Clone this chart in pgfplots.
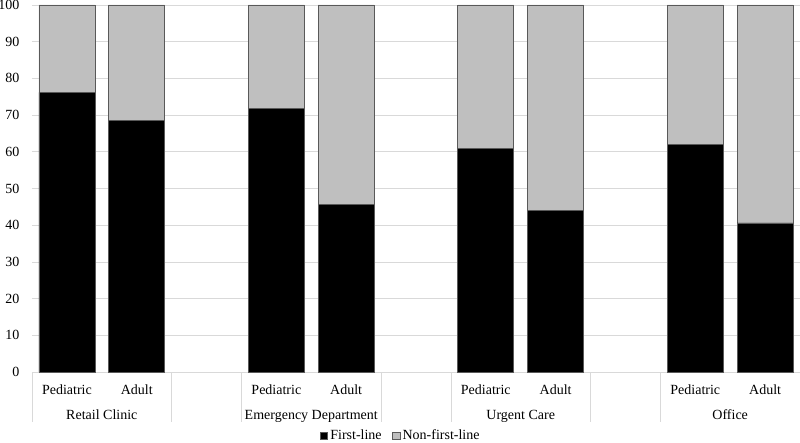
\documentclass[border=0pt]{standalone}
\usepackage{fontspec}
\setmainfont{Liberation Serif}
\usepackage{pgfplots}
\pgfplotsset{compat=1.18}
\definecolor{gridc}{HTML}{D9D9D9}
\definecolor{barg}{HTML}{BFBFBF}
\definecolor{edgec}{HTML}{595959}
\begin{document}
\fontsize{14bp}{16bp}\selectfont
\begin{tikzpicture}
\useasboundingbox (-32bp,-71bp) rectangle (768bp,372bp);
\begin{axis}[
  anchor=south west, at={(0,0)},
  scale only axis, width=768bp, height=367bp,
  ybar stacked, bar width=56bp,
  xmin=-0.5, xmax=10.5, ymin=0, ymax=100,
  ytick={0,10,...,100},
  xtick={0,1,3,4,6,7,9,10},
  xticklabels={Pediatric,Adult,Pediatric,Adult,Pediatric,Adult,Pediatric,Adult},
  xticklabel style={anchor=base, yshift=-22bp, inner sep=0pt},
  yticklabel style={anchor=east, inner sep=0pt, xshift=-12.5bp},
  /pgf/number format/assume math mode=true,
  major tick length=0pt,
  axis line style={draw=none},
  ymajorgrids, grid style={gridc, line width=0.75bp},
  clip=false,
  legend style={draw=none, fill=none, at={(0.4805,-0.1736)}, anchor=center,
    legend columns=2, inner sep=0pt,
    nodes={inner sep=2.5bp},
    /tikz/every even column/.append style={column sep=8bp}},
  legend image code/.code={\draw[#1, line width=0.5bp] (0bp,-3.7bp) rectangle (7.4bp,3.7bp);},
]
\addplot[fill=black, draw=edgec, line width=0.75bp] coordinates {(0,76.2) (1,68.5) (3,71.7) (4,45.7) (6,60.8) (7,44.0) (9,62.0) (10,40.6)};
\addplot[fill=barg, draw=edgec, line width=0.75bp] coordinates {(0,23.8) (1,31.5) (3,28.3) (4,54.3) (6,39.2) (7,56.0) (9,38.0) (10,59.4)};
\legend{First-line, Non-first-line}
\draw[gridc, line width=0.75bp] (axis cs:-0.5,0) -- (axis cs:10.5,0);
\pgfplotsinvokeforeach{-0.5,1.5,2.5,4.5,5.5,7.5,8.5,10.5}{
  \draw[gridc, line width=0.75bp] (axis cs:#1,0) -- ([yshift=-50bp]axis cs:#1,0);
}
\node[anchor=base, yshift=-47bp] at (axis cs:0.5,0) {Retail Clinic};
\node[anchor=base, yshift=-47bp] at (axis cs:3.5,0) {Emergency Department};
\node[anchor=base, yshift=-47bp] at (axis cs:6.5,0) {Urgent Care};
\node[anchor=base, yshift=-47bp] at (axis cs:9.5,0) {Office};
\end{axis}
\end{tikzpicture}
\end{document}
